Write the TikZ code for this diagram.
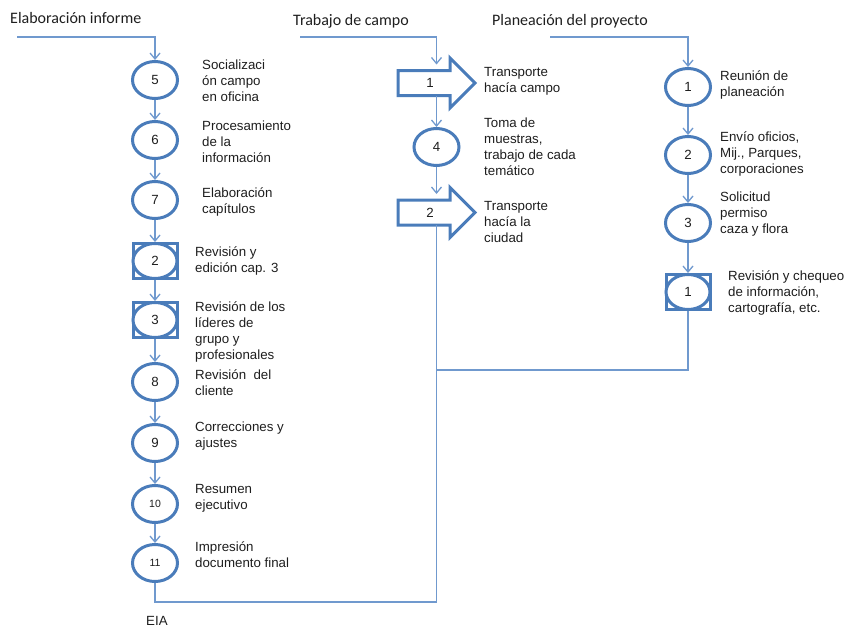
\documentclass[tikz,border=0pt]{standalone}
\usepackage{fontspec}
\setmainfont{Liberation Sans}
\newfontfamily\headfont{Carlito}
\usetikzlibrary{shapes.geometric,arrows.meta,calc}

\definecolor{shapeblue}{HTML}{4A7CBA}
\definecolor{linkblue}{HTML}{7099CE}
\definecolor{txt}{HTML}{1E1E1E}

\tikzset{
  oval/.style={ellipse, draw=shapeblue, line width=3pt, fill=white,
    minimum width=45pt, minimum height=37pt, inner sep=0pt,
    text=txt, font=\fontsize{13.3}{16}\selectfont},
  smalloval/.style={oval, font=\fontsize{10.5}{12}\selectfont},
  sqframe/.style={rectangle, draw=shapeblue, line width=3pt,
    minimum width=44pt, minimum height=35pt, inner sep=0pt},
  sqoval/.style={oval, minimum width=44pt, minimum height=35pt},
  bodybox/.style={rectangle, draw=none, minimum width=77pt,
    minimum height=25pt, inner sep=0pt, outer sep=0pt,
    text=txt, font=\fontsize{13.3}{16}\selectfont},
  outline/.style={draw=shapeblue, line width=3pt, line join=miter},
  link/.style={draw=linkblue, line width=1.3pt,
    -{Straight Barb[length=6pt,width=10pt]}},
  plainlink/.style={draw=linkblue, line width=1.3pt},
  lbl/.style={anchor=west, align=left, inner sep=0pt, text=txt,
    font=\fontsize{13.3}{16}\selectfont},
  head/.style={anchor=west, inner sep=0pt, text=txt,
    font=\headfont\fontsize{16}{19}\selectfont},
}

% outline of a block arrow around a body node (head 25pt long, 50pt wide)
\newcommand\blockarrowoutline[1]{%
  \draw[outline] (#1.north west) -- ($(#1.north east)+(-25,0)$)
    -- ($(#1.east)+(-25,-25)$) -- (#1.east) -- ($(#1.east)+(-25,25)$)
    -- ($(#1.south east)+(-25,0)$) -- (#1.south west) -- cycle;}

\begin{document}
\begin{tikzpicture}[x=1pt,y=-1pt]
\useasboundingbox (0,0) rectangle (846,629);

% column headings
\node[head] (hA) at (10,18) {Elaboración informe};
\node[head] (hB) at (293,21) {Trabajo de campo};
\node[head] (hC) at (492,21) {Planeación del proyecto};
\coordinate (sA) at (17,37);
\coordinate (sB) at (300,37);
\coordinate (sC) at (550,37);

% report column
\node[oval] (l5) at (155,80) {5};
\node[oval] (l6) at (155,140) {6};
\node[oval] (l7) at (155,200) {7};
\node[sqframe] (lb2) at (155,261) {};
\node[sqoval] (l2) at (155,261) {2};
\node[sqframe] (lb3) at (155,320) {};
\node[sqoval] (l3) at (155,320) {3};
\node[oval] (l8) at (155,382) {8};
\node[oval] (l9) at (155,443) {9};
\node[smalloval] (l10) at (155,504) {10};
\node[smalloval] (l11) at (155,563) {11};

\node[lbl] (t5) at (202,81) {Socializaci\\ón campo\\en oficina};
\node[lbl] (t6) at (202,142) {Procesamiento\\de la\\información};
\node[lbl] (t7) at (202,202) {Elaboración\\capítulos};
\node[lbl] (t2a) at (195,261) {Revisión y\\edición cap. 3};
\node[lbl] (t3a) at (195,331.5) {Revisión de los\\líderes de\\grupo y\\profesionales};
\node[lbl] (t8) at (195,383) {Revisión\ \ del\\cliente};
\node[lbl] (t9) at (195,436.5) {Correcciones y\\ajustes};
\node[lbl] (t10) at (195,498.5) {Resumen\\ejecutivo};
\node[lbl] (t11) at (195,555) {Impresión\\documento final};
\node[lbl] (eia) at (146,621) {EIA};

% field work column
\node[bodybox] (m1) at (436.5,83) {\kern-13pt 1};
\blockarrowoutline{m1}
\node[oval] (m4) at (436.5,147) {4};
\node[bodybox] (m2) at (436.5,212.5) {\kern-13pt 2};
\blockarrowoutline{m2}

\node[lbl] (tm1) at (484,81) {Transporte\\hacía campo};
\node[lbl] (tm4) at (484,147) {Toma de\\muestras,\\trabajo de cada\\temático};
\node[lbl] (tm2) at (484,221.5) {Transporte\\hacía la\\ciudad};

% planning column
\node[oval] (r1) at (688,87) {1};
\node[oval] (r2) at (688,155) {2};
\node[oval] (r3) at (688,223) {3};
\node[sqframe] (rb4) at (688,292) {};
\node[sqoval] (r4) at (688,292) {1};

\node[lbl] (tr1) at (720,85) {Reunión de\\planeación};
\node[lbl] (tr2) at (720,153.5) {Envío oficios,\\Mij., Parques,\\corporaciones};
\node[lbl] (tr3) at (720,214) {Solicitud\\permiso\\caza y flora};
\node[lbl] (tr4) at (728,292.5) {Revisión y chequeo\\de información,\\cartografía, etc.};

% connectors
\draw[link] (sA) -| (l5);
\draw[link] (l5) -- (l6);
\draw[link] (l6) -- (l7);
\draw[link] (l7) -- (lb2);
\draw[link] (lb2) -- (lb3);
\draw[link] (lb3) -- (l8);
\draw[link] (l8) -- (l9);
\draw[link] (l9) -- (l10);
\draw[link] (l10) -- (l11);

\draw[link, shorten >=6pt] (sB) -| (m1);
\draw[link] (m1) -- (m4);
\draw[link, shorten >=6pt] (m4) -- (m2);

\draw[link] (sC) -| (r1);
\draw[link] (r1) -- (r2);
\draw[link] (r2) -- (r3);
\draw[link] (r3) -- (rb4);

\coordinate (joinR) at (436.5,370);
\coordinate (joinL) at (436.5,602);
\draw[plainlink] (rb4) |- (joinR);
\draw[plainlink] (m2) -- (joinL);
\draw[plainlink] (l11) |- (joinL);
\end{tikzpicture}
\end{document}
